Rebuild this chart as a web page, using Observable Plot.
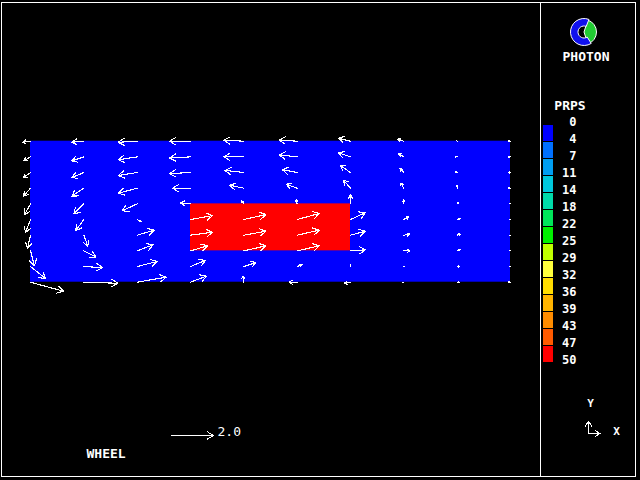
<!DOCTYPE html>
<html><head><meta charset="utf-8">
<script src="https://cdn.jsdelivr.net/npm/d3@7"></script>
<script src="https://cdn.jsdelivr.net/npm/@observablehq/plot@0.6"></script>
<style>
html,body{margin:0;padding:0;background:#000;}
#wrap{position:relative;width:640px;height:480px;background:#000;overflow:hidden;}
#wrap > svg, #wrap > div{position:absolute;}
</style></head><body><div id="wrap"></div>
<script>
// grid of cell positions (column index, row height index)
const xCells = [0, 1, 2, 3, 4, 5, 6, 7, 8, 9];
const yRows  = [9, 8, 7, 6, 5, 4, 3, 2, 1, 0];   // listed top row first
// velocity components per row (top row first), u to the right, v upward
const uRows = [
  [-0.38, -0.57, -0.90, -1.00, -0.95, -0.86, -0.57, -0.29, -0.05, -0.10],
  [-0.33, -0.57, -0.90, -1.00, -0.95, -0.86, -0.57, -0.24, -0.10, -0.10],
  [-0.33, -0.57, -0.90, -1.00, -0.90, -0.71, -0.48, -0.19, -0.10, -0.10],
  [-0.33, -0.57, -0.90, -0.86, -0.67, -0.52, -0.33, -0.14,  0.00, -0.10],
  [-0.29, -0.48, -0.71, -0.48, -0.10, -0.05,  0.00,  0.00,  0.05, -0.05],
  [-0.24, -0.38,  0.19,  1.05,  1.05,  1.05,  0.71,  0.24,  0.14, -0.05],
  [-0.14,  0.19,  0.81,  1.05,  1.05,  1.05,  0.71,  0.29,  0.14, -0.05],
  [ 0.19,  0.57,  0.76,  0.81,  1.05,  1.05,  0.71,  0.29,  0.14, -0.05],
  [ 0.71,  0.90,  0.95,  0.71,  0.57,  0.24,  0.00,  0.05,  0.10, -0.05],
  [ 1.57,  1.62,  1.38,  0.76, -0.05, -0.38, -0.29, -0.05,  0.10, -0.10]
];
const vRows = [
  [-0.05, -0.05, -0.05,  0.00,  0.05,  0.05,  0.14,  0.10,  0.05,  0.00],
  [-0.19, -0.19, -0.14, -0.05,  0.00,  0.10,  0.19,  0.14,  0.00,  0.00],
  [-0.24, -0.24, -0.14, -0.05,  0.10,  0.14,  0.33,  0.19,  0.05,  0.00],
  [-0.38, -0.38, -0.24,  0.00,  0.14,  0.19,  0.38,  0.24,  0.14,  0.00],
  [-0.52, -0.48, -0.33,  0.05,  0.14,  0.19,  0.43,  0.19,  0.05,  0.00],
  [-0.62, -0.52, -0.10,  0.19,  0.24,  0.29,  0.33,  0.14,  0.05,  0.00],
  [-0.62, -0.52,  0.24,  0.14,  0.19,  0.24,  0.19,  0.05,  0.05,  0.00],
  [-0.71, -0.29,  0.29,  0.24,  0.24,  0.24,  0.05,  0.00,  0.05,  0.00],
  [-0.57, -0.05,  0.24,  0.29,  0.19,  0.10,  0.10,  0.00,  0.00,  0.00],
  [-0.43, -0.05,  0.24,  0.29,  0.29,  0.00, -0.05,  0.00,  0.00,  0.00]
];
// PRPS material regions
const regionName = ["domain", "WHEEL"];
const regionX1 = [0, 3];
const regionX2 = [9, 6];
const regionY1 = [0, 2];
const regionY2 = [9, 5];
const regionPRPS = [0, 50];
// legend
const prpsTicks = [0, 4, 7, 11, 14, 18, 22, 25, 29, 32, 36, 39, 43, 47, 50];
const prpsColors = ["#0000ff", "#0070ff", "#009ef2", "#00c8dc", "#00dcaa", "#00e65a", "#00f000",
                    "#c0ff00", "#ffff3c", "#ffdc00", "#ffb400", "#ff8c00", "#ff5a00", "#ff0000"];
const refSpeed = 2.0;
const titleText = "PHOTON";
const legendTitle = "PRPS";
const objectLabel = "WHEEL";

const regions = regionName.map((name, i) => ({name, x1: regionX1[i], x2: regionX2[i], y1: regionY1[i], y2: regionY2[i], prps: regionPRPS[i]}));
const vectors = yRows.flatMap((y, r) => xCells.map((x, c) => ({x, y, u: uRows[r][c], v: vRows[r][c]})));

const colorOpts = {type: "threshold", domain: prpsTicks.slice(1, -1), range: prpsColors};
const headShape = {
  draw(ctx, l) {
    ctx.moveTo(0, 0); ctx.lineTo(0, -l);
    const h = Math.min(6, l * 0.4), w = h * 0.6;
    if (h > 0.5) { ctx.moveTo(-w, -l + h); ctx.lineTo(0, -l); ctx.lineTo(w, -l + h); }
  }
};
const font = "'DejaVu Sans Mono', monospace";

const main = Plot.plot({
  width: 640, height: 480,
  marginLeft: 30, marginRight: 130, marginTop: 140.7, marginBottom: 198.3,
  x: {domain: [0, 9], axis: null},
  y: {domain: [0, 9], axis: null},
  color: colorOpts,
  length: {domain: [0, 2], range: [0, 42]},
  style: {background: "transparent", fontFamily: font, color: "white", overflow: "visible"},
  marks: [
    Plot.rect(regions, {x1: "x1", x2: "x2", y1: "y1", y2: "y2", fill: "prps"}),
    Plot.vector(vectors, {
      x: "x", y: "y",
      length: d => Math.hypot(d.u, d.v),
      rotate: d => Math.atan2(d.u, d.v) * 180 / Math.PI,
      anchor: "start", shape: headShape, stroke: "white", strokeWidth: 1.1,
      shapeRendering: "crispEdges"
    }),
    Plot.vector([refSpeed], {length: d => d, rotate: 90, anchor: "start", shape: headShape,
      frameAnchor: "bottom-left", dx: 141, dy: 153.3, stroke: "white", strokeWidth: 1,
      shapeRendering: "crispEdges"}),
    Plot.text([refSpeed], {text: d => d.toFixed(1), frameAnchor: "bottom-left", dx: 187, dy: 153.3,
      textAnchor: "start", lineAnchor: "bottom", fill: "white", fontSize: 13}),
    Plot.text([objectLabel], {frameAnchor: "bottom-left", dx: 56, dy: 175.3,
      textAnchor: "start", lineAnchor: "bottom", fill: "white", fontSize: 13, fontWeight: "bold"})
  ]
});
main.style.left = "0px"; main.style.top = "0px";

const legend = Plot.plot({
  width: 100, height: 480,
  marginLeft: 3, marginRight: 87, marginTop: 125, marginBottom: 117,
  y: {domain: [0, 14], reverse: true, axis: null},
  color: colorOpts,
  style: {background: "transparent", fontFamily: font, color: "white", overflow: "visible"},
  marks: [
    Plot.rect(prpsColors, {y1: (d, i) => i, y2: (d, i) => i + 1, fill: (d, i) => prpsTicks[i], insetBottom: 1}),
    Plot.text(prpsTicks, {y: (d, i) => i, text: d => String(d), frameAnchor: "right", dx: 23,
      textAnchor: "end", lineAnchor: "bottom", fill: "white", fontSize: 12, fontWeight: "bold"}),
    Plot.text([legendTitle], {frameAnchor: "top-left", dx: 26.5, dy: -16, textAnchor: "middle",
      lineAnchor: "bottom", fill: "white", fontSize: 13, fontWeight: "bold"}),
    Plot.text([titleText], {frameAnchor: "top-left", dx: 42.5, dy: -65, textAnchor: "middle",
      lineAnchor: "bottom", fill: "white", fontSize: 13, fontWeight: "bold"}),
    Plot.vector([16], {length: d => d, rotate: 0, anchor: "start", shape: headShape,
      frameAnchor: "bottom-left", dx: 45, dy: 70, stroke: "white", strokeWidth: 1, shapeRendering: "crispEdges"}),
    Plot.vector([15], {length: d => d, rotate: 90, anchor: "start", shape: headShape,
      frameAnchor: "bottom-left", dx: 45, dy: 70, stroke: "white", strokeWidth: 1, shapeRendering: "crispEdges"}),
    Plot.text(["Y"], {frameAnchor: "bottom-left", dx: 47, dy: 43, textAnchor: "middle",
      lineAnchor: "bottom", fill: "white", fontSize: 11, fontWeight: "bold"}),
    Plot.text(["X"], {frameAnchor: "bottom-left", dx: 73, dy: 71, textAnchor: "middle",
      lineAnchor: "bottom", fill: "white", fontSize: 11, fontWeight: "bold"})
  ]
});
legend.style.left = "540px"; legend.style.top = "0px";

const wrap = document.getElementById("wrap");
wrap.appendChild(main);
wrap.appendChild(legend);

// logo
const logo = d3.create("svg").attr("width", 40).attr("height", 40)
  .style("left", "564px").style("top", "12px");
const g = logo.append("g").attr("transform", "translate(20,20)");
g.append("path").attr("d", d3.arc()({innerRadius: 0, outerRadius: 12.5, startAngle: 0.1 * Math.PI, endAngle: 0.9 * Math.PI}))
  .attr("fill", "#22cc33").attr("stroke", "white").attr("stroke-width", 1);
g.append("path").attr("d", d3.arc()({innerRadius: 6, outerRadius: 13.5, startAngle: 0.82 * Math.PI, endAngle: 2.12 * Math.PI}))
  .attr("fill", "#1010ee").attr("stroke", "white").attr("stroke-width", 1);
wrap.appendChild(logo.node());

// frame lines
const frame = document.createElement("div");
Object.assign(frame.style, {left: "1px", top: "2px", width: "635px", height: "475px", boxSizing: "border-box", border: "1px solid white"});
wrap.appendChild(frame);
const sep = document.createElement("div");
Object.assign(sep.style, {left: "540px", top: "2px", width: "1px", height: "475px", background: "white"});
wrap.appendChild(sep);
</script></body></html>
